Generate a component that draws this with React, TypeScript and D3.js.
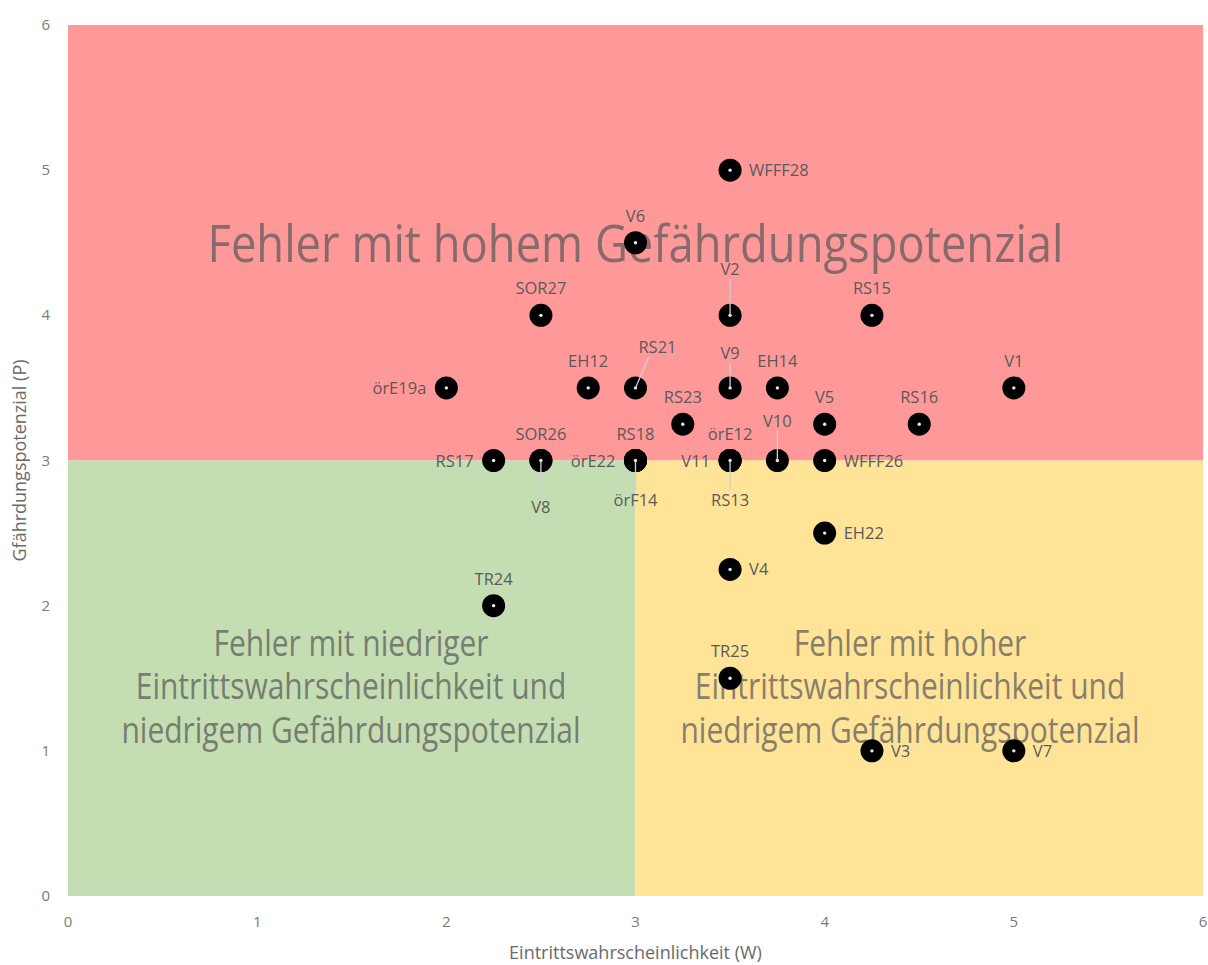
import React from "react";
import * as d3 from "d3";

// ---- Data ----
const pointNames = [
  "WFFF28", "V6", "V2", "SOR27", "RS15", "örE19a", "EH12", "RS21", "V9", "EH14", "V1",
  "RS23", "V5", "RS16", "RS17", "SOR26", "V8", "RS18", "örE22", "örF14", "örE12", "V11",
  "RS13", "V10", "WFFF26", "EH22", "V4", "TR24", "TR25", "V3", "V7",
];
const wValues = [
  3.5, 3, 3.5, 2.5, 4.25, 2, 2.75, 3, 3.5, 3.75, 5,
  3.25, 4, 4.5, 2.25, 2.5, 2.5, 3, 3, 3, 3.5, 3.5,
  3.5, 3.75, 4, 4, 3.5, 2.25, 3.5, 4.25, 5,
];
const pValues = [
  5, 4.5, 4, 4, 4, 3.5, 3.5, 3.5, 3.5, 3.5, 3.5,
  3.25, 3.25, 3.25, 3, 3, 3, 3, 3, 3, 3, 3,
  3, 3, 3, 2.5, 2.25, 2, 1.5, 1, 1,
];
// label placement categories
const labelPlacement = [
  "right", "above", "aboveLeaderFar", "above", "above", "left", "above", "upRightLeader", "aboveLeaderNear", "above", "above",
  "above", "above", "above", "left", "above", "belowLeaderFar", "above", "left", "belowLeader", "above", "left",
  "belowLeader", "aboveLeaderMid", "right", "right", "right", "above", "above", "right", "right",
];

const xTicks = [0, 1, 2, 3, 4, 5, 6];
const yTicks = [0, 1, 2, 3, 4, 5, 6];
const xTitle = "Eintrittswahrscheinlichkeit (W)";
const yTitle = "Gfährdungspotenzial (P)";
const topZoneText = ["Fehler mit hohem Gefährdungspotenzial"];
const leftZoneText = ["Fehler mit niedriger", "Eintrittswahrscheinlichkeit und", "niedrigem Gefährdungspotenzial"];
const rightZoneText = ["Fehler mit hoher", "Eintrittswahrscheinlichkeit und", "niedrigem Gefährdungspotenzial"];

// ---- Layout ----
const W = 1208;
const H = 965;
const M = { left: 68, right: 5, top: 25, bottom: 69 };
const FONT = "'Open Sans', 'Noto Sans', sans-serif";

const offsets: Record<string, { dx: number; dy: number; anchor: string; leader?: boolean }> = {
  right: { dx: 19, dy: 0, anchor: "start" },
  left: { dx: -20, dy: 0, anchor: "end" },
  above: { dx: 0, dy: -27, anchor: "middle" },
  aboveLeaderFar: { dx: 0, dy: -46, anchor: "middle", leader: true },
  aboveLeaderMid: { dx: 0, dy: -40, anchor: "middle", leader: true },
  aboveLeaderNear: { dx: 0, dy: -35, anchor: "middle", leader: true },
  belowLeader: { dx: 0, dy: 39, anchor: "middle", leader: true },
  belowLeaderFar: { dx: 0, dy: 46, anchor: "middle", leader: true },
  upRightLeader: { dx: 22, dy: -41, anchor: "middle", leader: true },
};

export default function App() {
  const x = d3.scaleLinear().domain([0, 6]).range([M.left, W - M.right]);
  const y = d3.scaleLinear().domain([0, 6]).range([H - M.bottom, M.top]);

  const points = pointNames.map((name, i) => ({
    name,
    w: wValues[i],
    p: pValues[i],
    place: labelPlacement[i],
  }));

  const zoneFill = "#595959";
  const zoneOpacity = 0.72;
  const condense = 0.81;

  const block = (lines: string[], cx: number, key: string) => (
    <g key={key} transform={`translate(${cx},0) scale(${condense},1)`}>
      {lines.map((t, i) => (
        <text
          key={key + i}
          x={0}
          y={656 + i * 43.5}
          textAnchor="middle"
          fontFamily={FONT}
          fontSize={37}
          fill={zoneFill}
          opacity={zoneOpacity}
        >
          {t}
        </text>
      ))}
    </g>
  );

  return (
    <svg width={W} height={H} style={{ position: "absolute", left: 0, top: 0, background: "#fff" }}>
      {/* zones */}
      <rect x={x(0)} y={y(6)} width={x(6) - x(0)} height={y(3) - y(6)} fill="#FF9999" />
      <rect x={x(0)} y={y(3)} width={x(3) - x(0)} height={y(0) - y(3)} fill="#C5DDB3" />
      <rect x={x(3)} y={y(3)} width={x(6) - x(3)} height={y(0) - y(3)} fill="#FFE498" />

      {/* zone texts */}
      <text
        x={x(3)}
        y={262}
        textAnchor="middle"
        fontFamily={FONT}
        fontSize={51}
        fill={zoneFill}
        opacity={zoneOpacity}
        textLength={856}
        lengthAdjust="spacingAndGlyphs"
      >
        {topZoneText[0]}
      </text>
      {block(leftZoneText, 351, "lz")}
      {block(rightZoneText, 910, "rz")}

      {/* axes tick labels */}
      {xTicks.map((t) => (
        <text key={"xt" + t} x={x(t)} y={H - M.bottom + 31} textAnchor="middle" fontFamily={FONT} fontSize={15} fill="#7a7a7a">
          {t}
        </text>
      ))}
      {yTicks.map((t) => (
        <text key={"yt" + t} x={50} y={y(t) + 5} textAnchor="end" fontFamily={FONT} fontSize={15} fill="#7a7a7a">
          {t}
        </text>
      ))}
      <text x={x(3)} y={959} textAnchor="middle" fontFamily={FONT} fontSize={18} fill="#6a6a6a">
        {xTitle}
      </text>
      <text
        transform={`translate(26, ${y(3)}) rotate(-90)`}
        textAnchor="middle"
        fontFamily={FONT}
        fontSize={18}
        fill="#6a6a6a"
      >
        {yTitle}
      </text>

      {/* points */}
      {points.map((d) => (
        <g key={"pt" + d.name}>
          <circle cx={x(d.w)} cy={y(d.p)} r={11.5} fill="#000" />
          <circle cx={x(d.w)} cy={y(d.p)} r={1.7} fill="#dfeff5" />
        </g>
      ))}

      {/* leader lines */}
      {points.map((d) => {
        const o = offsets[d.place];
        if (!o.leader) return null;
        const px = x(d.w);
        const py = y(d.p);
        const lx = px + o.dx * 0.6;
        const ly = py + o.dy + (o.dy < 0 ? 10 : -9);
        return <line key={"ll" + d.name} x1={px} y1={py} x2={lx} y2={ly} stroke="#cfcfcf" strokeWidth={1.3} />;
      })}

      {/* labels */}
      {points.map((d) => {
        const o = offsets[d.place];
        return (
          <text
            key={"lb" + d.name}
            x={x(d.w) + o.dx}
            y={y(d.p) + o.dy + 6}
            textAnchor={o.anchor}
            fontFamily={FONT}
            fontSize={16.5}
            fill="#5a5a5a"
          >
            {d.name}
          </text>
        );
      })}
    </svg>
  );
}
